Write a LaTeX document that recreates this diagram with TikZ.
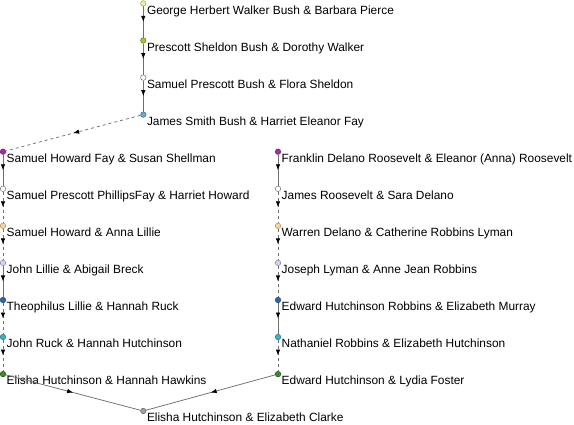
\documentclass[tikz,border=0pt]{standalone}
\usepackage{fontspec}
\setmainfont{Liberation Sans}
\usetikzlibrary{decorations.markings,arrows.meta}
\definecolor{cYel}{HTML}{F4EE9C}
\definecolor{cYelD}{HTML}{A8A060}
\definecolor{cLime}{HTML}{9CC830}
\definecolor{cLimeD}{HTML}{5A7A10}
\definecolor{cSky}{HTML}{6CA8DC}
\definecolor{cSkyD}{HTML}{3A6A9A}
\definecolor{cPur}{HTML}{A02CA8}
\definecolor{cPurD}{HTML}{602068}
\definecolor{cPea}{HTML}{F8D4A4}
\definecolor{cPeaD}{HTML}{B08860}
\definecolor{cLav}{HTML}{D4D4F0}
\definecolor{cLavD}{HTML}{8080A8}
\definecolor{cBlu}{HTML}{2A68B0}
\definecolor{cBluD}{HTML}{1A4070}
\definecolor{cTea}{HTML}{30B8C8}
\definecolor{cTeaD}{HTML}{207080}
\definecolor{cGrn}{HTML}{3C8A24}
\definecolor{cGrnD}{HTML}{205010}
\definecolor{cGry}{HTML}{A0A0A0}
\definecolor{cGryD}{HTML}{606060}
\definecolor{cWht}{HTML}{FFFFFF}
\definecolor{cWhtD}{HTML}{707070}
\definecolor{cLine}{HTML}{6E6E6E}
\tikzset{
  person/.style={circle, draw=#1D, fill=#1, inner sep=0pt, minimum size=5.5pt, line width=0.5pt},
  lbl/.style={anchor=base west, inner sep=0pt, font=\fontsize{11.9}{13}\selectfont},
  link/.style={draw=cLine, line width=0.75pt, postaction={decorate},
    decoration={markings, mark=at position 0.5 with {\arrow[black]{Latex[length=6pt,width=4.5pt]}}}},
  dlink/.style={link, dash pattern=on 3pt off 3pt},
}
\begin{document}
\begin{tikzpicture}[x=1pt,y=-1pt]
\useasboundingbox (0,0) rectangle (574,424);
% Bush column
\node[person=cYel] (g) at (143.3,3.4) {};
\node[person=cLime] (p) at (143.3,40.5) {};
\node[person=cWht] (s) at (143.3,77.6) {};
\node[person=cSky] (j) at (143.3,114.6) {};
% left column
\node[person=cPur] (l1) at (3,151.7) {};
\node[person=cWht] (l2) at (3,188.8) {};
\node[person=cPea] (l3) at (3,225.8) {};
\node[person=cLav] (l4) at (3,262.9) {};
\node[person=cBlu] (l5) at (3,300) {};
\node[person=cTea] (l6) at (3,337) {};
\node[person=cGrn] (l7) at (3,374.1) {};
% right column
\node[person=cPur] (r1) at (278,151.7) {};
\node[person=cWht] (r2) at (278,188.8) {};
\node[person=cPea] (r3) at (278,225.8) {};
\node[person=cLav] (r4) at (278,262.9) {};
\node[person=cBlu] (r5) at (278,300) {};
\node[person=cTea] (r6) at (278,337) {};
\node[person=cGrn] (r7) at (278,374.1) {};
% root
\node[person=cGry] (c) at (143.3,411) {};
% labels
\node[lbl] (tg) at ([shift={(3.5,10.8)}]g.center) {George Herbert Walker Bush \& Barbara Pierce};
\node[lbl] (tp) at ([shift={(3.5,10.8)}]p.center) {Prescott Sheldon Bush \& Dorothy Walker};
\node[lbl] (ts) at ([shift={(3.5,10.8)}]s.center) {Samuel Prescott Bush \& Flora Sheldon};
\node[lbl] (tj) at ([shift={(3.5,10.8)}]j.center) {James Smith Bush \& Harriet Eleanor Fay};
\node[lbl] (tl1) at ([shift={(3.5,10.8)}]l1.center) {Samuel Howard Fay \& Susan Shellman};
\node[lbl] (tl2) at ([shift={(3.5,10.8)}]l2.center) {Samuel Prescott PhillipsFay \& Harriet Howard};
\node[lbl] (tl3) at ([shift={(3.5,10.8)}]l3.center) {Samuel Howard \& Anna Lillie};
\node[lbl] (tl4) at ([shift={(3.5,10.8)}]l4.center) {John Lillie \& Abigail Breck};
\node[lbl] (tl5) at ([shift={(3.5,10.8)}]l5.center) {Theophilus Lillie \& Hannah Ruck};
\node[lbl] (tl6) at ([shift={(3.5,10.8)}]l6.center) {John Ruck \& Hannah Hutchinson};
\node[lbl] (tl7) at ([shift={(3.5,10.8)}]l7.center) {Elisha Hutchinson \& Hannah Hawkins};
\node[lbl] (tr1) at ([shift={(3.5,10.8)}]r1.center) {Franklin Delano Roosevelt \& Eleanor (Anna) Roosevelt};
\node[lbl] (tr2) at ([shift={(3.5,10.8)}]r2.center) {James Roosevelt \& Sara Delano};
\node[lbl] (tr3) at ([shift={(3.5,10.8)}]r3.center) {Warren Delano \& Catherine Robbins Lyman};
\node[lbl] (tr4) at ([shift={(3.5,10.8)}]r4.center) {Joseph Lyman \& Anne Jean Robbins};
\node[lbl] (tr5) at ([shift={(3.5,10.8)}]r5.center) {Edward Hutchinson Robbins \& Elizabeth Murray};
\node[lbl] (tr6) at ([shift={(3.5,10.8)}]r6.center) {Nathaniel Robbins \& Elizabeth Hutchinson};
\node[lbl] (tr7) at ([shift={(3.5,10.8)}]r7.center) {Edward Hutchinson \& Lydia Foster};
\node[lbl] (tc) at ([shift={(3.5,10.8)}]c.center) {Elisha Hutchinson \& Elizabeth Clarke};
% links
\draw[link] (g) -- (p);
\draw[link] (p) -- (s);
\draw[link] (s) -- (j);
\draw[dlink] (j) -- (l1);
\draw[link] (l1) -- (l2);
\draw[dlink] (l2) -- (l3);
\draw[dlink] (l3) -- (l4);
\draw[link] (l4) -- (l5);
\draw[dlink] (l5) -- (l6);
\draw[dlink] (l6) -- (l7);
\draw[link] (l7) -- (c);
\draw[link] (r1) -- (r2);
\draw[dlink] (r2) -- (r3);
\draw[dlink] (r3) -- (r4);
\draw[dlink] (r4) -- (r5);
\draw[link] (r5) -- (r6);
\draw[dlink] (r6) -- (r7);
\draw[link] (r7) -- (c);
\end{tikzpicture}
\end{document}
